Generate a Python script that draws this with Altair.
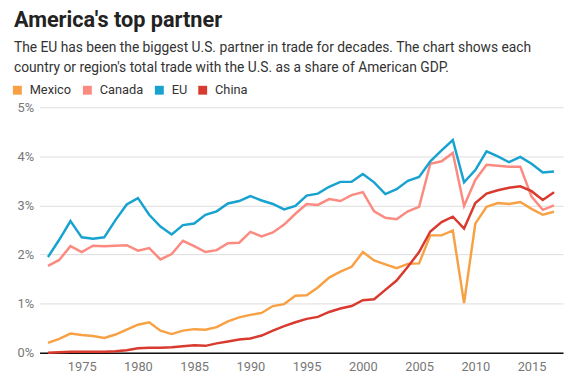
import altair as alt
import pandas as pd

years = list(range(1972, 2018))
series_names = ["Mexico", "Canada", "EU", "China"]
series_colors = ["#F8A144", "#FB8A80", "#17A2CF", "#D93A2F"]

eu = [1.95, 2.30, 2.68, 2.35, 2.32, 2.35, 2.70, 3.02,
      3.15, 2.81, 2.57, 2.41, 2.60, 2.63, 2.81, 2.88, 3.04, 3.09,
      3.19, 3.10, 3.03, 2.92, 2.99, 3.20, 3.24, 3.38, 3.48, 3.48,
      3.64, 3.47, 3.23, 3.33, 3.50, 3.58, 3.90, 4.12, 4.33, 3.47,
      3.72, 4.10, 4.00, 3.88, 3.99, 3.85, 3.67, 3.69]
canada = [1.77, 1.89, 2.17, 2.05, 2.18, 2.17, 2.18, 2.19,
          2.08, 2.13, 1.90, 2.01, 2.28, 2.17, 2.05, 2.09, 2.23, 2.24,
          2.46, 2.37, 2.45, 2.61, 2.83, 3.03, 3.01, 3.13, 3.09, 3.21,
          3.27, 2.88, 2.75, 2.72, 2.88, 2.97, 3.85, 3.90, 4.07, 2.99,
          3.52, 3.83, 3.81, 3.79, 3.79, 3.18, 2.91, 3.00]
mexico = [0.20, 0.28, 0.39, 0.36, 0.34, 0.30, 0.37, 0.47,
          0.57, 0.62, 0.45, 0.38, 0.45, 0.48, 0.47, 0.52, 0.64, 0.72,
          0.77, 0.81, 0.95, 0.99, 1.16, 1.17, 1.33, 1.53, 1.65, 1.75,
          2.05, 1.88, 1.80, 1.72, 1.81, 1.82, 2.39, 2.39, 2.49, 1.01,
          2.63, 2.97, 3.05, 3.03, 3.07, 2.93, 2.81, 2.87]
china = [0.00, 0.01, 0.02, 0.02, 0.02, 0.02, 0.03, 0.05,
         0.09, 0.10, 0.10, 0.11, 0.13, 0.15, 0.14, 0.19, 0.23, 0.27,
         0.29, 0.35, 0.45, 0.54, 0.62, 0.69, 0.73, 0.83, 0.90, 0.95,
         1.07, 1.09, 1.28, 1.47, 1.75, 2.05, 2.47, 2.66, 2.77, 2.53,
         3.05, 3.24, 3.31, 3.36, 3.39, 3.29, 3.11, 3.27]

x_ticks = [1975, 1980, 1985, 1990, 1995, 2000, 2005, 2010, 2015]
y_ticks = [0, 1, 2, 3, 4, 5]

values = {"Mexico": mexico, "Canada": canada, "EU": eu, "China": china}
rows = []
for name in series_names:
    for y, v in zip(years, values[name]):
        rows.append({"year": y, "share": v, "partner": name})
df = pd.DataFrame(rows)

FONT = "Roboto"

chart = alt.Chart(df).mark_line(strokeWidth=2.5, strokeJoin="miter").encode(
    x=alt.X("year:Q",
            scale=alt.Scale(domain=[1971.25, 2017.8], nice=False, zero=False),
            axis=alt.Axis(values=x_ticks, format="d", grid=False, ticks=False,
                          domain=True, domainColor="#111", domainWidth=1.5,
                          labelColor="#777", labelFontSize=13, labelPadding=8,
                          labelFont=FONT, title=None)),
    y=alt.Y("share:Q",
            scale=alt.Scale(domain=[0, 5], nice=False),
            axis=alt.Axis(values=y_ticks, labelExpr="datum.value + '%'",
                          grid=True, gridColor="#dddddd", ticks=False, domain=False,
                          labelColor="#777", labelFontSize=13, labelPadding=6,
                          labelFont=FONT, title=None)),
    color=alt.Color("partner:N",
                    scale=alt.Scale(domain=series_names, range=series_colors),
                    sort=series_names,
                    legend=alt.Legend(orient="none", direction="horizontal",
                                      legendX=-29, legendY=-24, title=None,
                                      symbolType="square", symbolSize=4,
                                      symbolStrokeWidth=7, symbolOpacity=1,
                                      labelFontSize=13, labelColor="#333",
                                      labelFont=FONT, labelOffset=6,
                                      columnPadding=0)),
    order=alt.Order("partner_order:Q"),
).transform_calculate(
    partner_order="indexof(['Mexico','Canada','EU','China'], datum.partner)"
).properties(
    width=531,
    height=249,
    autosize="none",
    padding={"left": 32, "top": 98, "right": 2, "bottom": 24},
    title=alt.TitleParams(
        text="America's top partner",
        subtitle=["The EU has been the biggest U.S. partner in trade for decades. The chart shows each",
                  "country or region's total trade with the U.S. as a share of American GDP."],
        anchor="start", frame="group", orient="top",
        font=FONT, fontSize=22, fontWeight="bold", color="#222",
        subtitleFont=FONT, subtitleFontSize=14, subtitleColor="#333",
        subtitleLineHeight=20, subtitlePadding=9,
        dx=-26, offset=8,
    ),
).configure_view(stroke=None)

chart.save("out.html", embed_options={"renderer": "svg", "actions": False})
